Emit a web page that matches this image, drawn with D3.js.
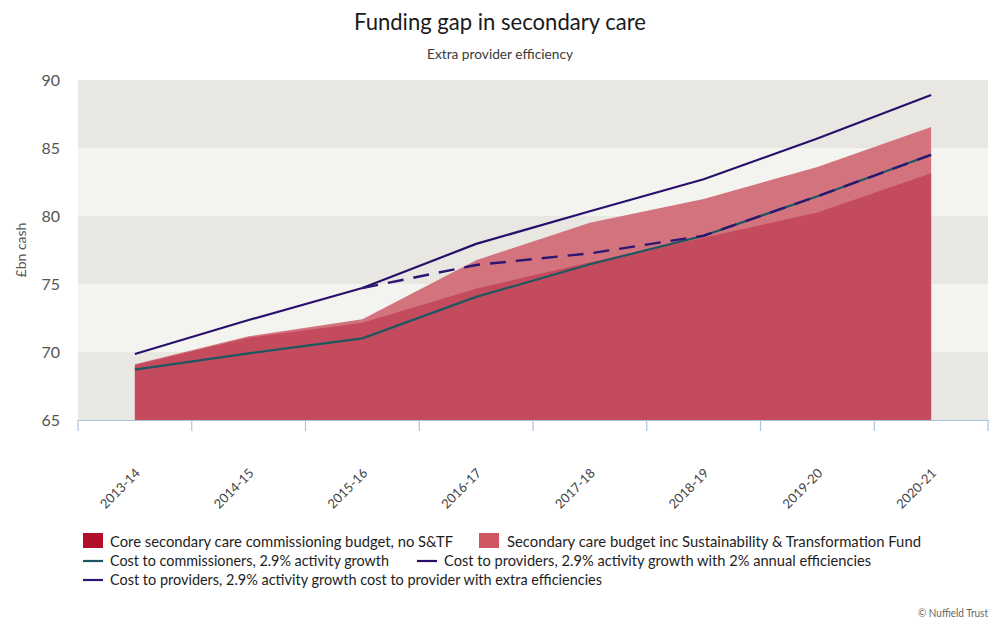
<!DOCTYPE html>
<html>
<head>
<meta charset="utf-8">
<script src="https://cdn.jsdelivr.net/npm/d3@7"></script>
<style>
  html, body { margin: 0; padding: 0; background: #ffffff; }
  svg { display: block; }
  text { font-family: Lato, "Open Sans", "DejaVu Sans", sans-serif; }
</style>
</head>
<body>
<svg id="chart" width="1000" height="625"></svg>
<script>
// ---- data ----
const categories = ["2013-14","2014-15","2015-16","2016-17","2017-18","2018-19","2019-20","2020-21"];
const coreBudget = [69.05, 71.05, 72.15, 74.65, 76.6, 78.4, 80.25, 83.15];
const stfBudget = [69.1, 71.15, 72.4, 76.75, 79.5, 81.25, 83.6, 86.55];
const costCommissioners = [68.7, 69.9, 71.0, 74.05, 76.45, 78.55, 81.45, 84.5];
const costProviders2pc = [69.85, 72.35, 74.7, 77.95, 80.35, 82.7, 85.7, 88.9];
const costProvidersExtra = [null, null, 74.7, 76.4, 77.25, 78.55, 81.45, 84.5];
const yTicks = [65, 70, 75, 80, 85, 90];

const title = "Funding gap in secondary care";
const subtitle = "Extra provider efficiency";
const yTitle = "£bn cash";
const credit = "© Nuffield Trust";
const legendLabels = [
  "Core secondary care commissioning budget, no S&TF",
  "Secondary care budget inc Sustainability & Transformation Fund",
  "Cost to commissioners, 2.9% activity growth",
  "Cost to providers, 2.9% activity growth with 2% annual efficiencies",
  "Cost to providers, 2.9% activity growth cost to provider with extra efficiencies"
];

(function () {
// ---- layout ----
const svg = d3.select("#chart");
const pL = 78, pR = 988, pT = 80, pB = 420;

const x = d3.scaleBand().domain(categories).range([pL, pR]).padding(0);
const cx = d => x(d) + x.bandwidth() / 2;
const y = d3.scaleLinear().domain([65, 90]).range([pB, pT]);

// title
svg.append("text").attr("x", 500).attr("y", 30).attr("text-anchor", "middle")
  .attr("font-size", 24).attr("fill", "#1a1a1a").attr("textLength", 292)
  .attr("lengthAdjust", "spacingAndGlyphs").text(title);
svg.append("text").attr("x", 500).attr("y", 59).attr("text-anchor", "middle")
  .attr("font-size", 14).attr("fill", "#3a3a3a").attr("textLength", 146)
  .attr("lengthAdjust", "spacingAndGlyphs").text(subtitle);

// background bands
const bandColors = ["#e8e7e2", "#f3f4f0"];
for (let i = 0; i < yTicks.length - 1; i++) {
  svg.append("rect")
    .attr("x", pL).attr("width", pR - pL)
    .attr("y", y(yTicks[i + 1])).attr("height", y(yTicks[i]) - y(yTicks[i + 1]))
    .attr("fill", bandColors[i % 2]);
}

// areas
const areaGen = vals => d3.area()
  .x((d, i) => cx(categories[i]))
  .y0(y(65))
  .y1(d => y(d))(vals);

svg.append("path").attr("d", areaGen(stfBudget)).attr("fill", "#d2737e");
svg.append("path").attr("d", areaGen(coreBudget)).attr("fill", "#c44b5d");

// lines
const lineGen = d3.line()
  .defined(d => d != null)
  .x((d, i) => cx(categories[i]))
  .y(d => y(d));

svg.append("path").attr("d", lineGen(costCommissioners))
  .attr("fill", "none").attr("stroke", "#1d5862").attr("stroke-width", 2.2);
svg.append("path").attr("d", lineGen(costProviders2pc))
  .attr("fill", "none").attr("stroke", "#2a0f6a").attr("stroke-width", 2.2);
svg.append("path").attr("d", lineGen(costProvidersExtra))
  .attr("fill", "none").attr("stroke", "#2d1672").attr("stroke-width", 2.4)
  .attr("stroke-dasharray", "16,10");

// y axis labels
const yAxis = svg.append("g").attr("transform", `translate(${pL},0)`)
  .call(d3.axisLeft(y).tickValues(yTicks).tickSize(0).tickPadding(18));
yAxis.select(".domain").remove();
yAxis.selectAll("text").attr("font-size", 16).attr("fill", "#555")
  .attr("font-family", "Lato, 'Open Sans', sans-serif");

svg.append("text")
  .attr("transform", `translate(26,250) rotate(-90)`)
  .attr("text-anchor", "middle").attr("font-size", 14).attr("fill", "#555")
  .text(yTitle);

// x axis
const xAxis = svg.append("g").attr("transform", `translate(0,${pB})`)
  .call(d3.axisBottom(x).tickSize(0).tickFormat(""));
xAxis.select(".domain").attr("stroke", "#aac5e2").attr("stroke-width", 1.2);
xAxis.selectAll(".tick").remove();
const edges = categories.map(c => x(c)).concat([pR]);
svg.selectAll(".xtick").data(edges).enter().append("line")
  .attr("x1", d => d).attr("x2", d => d)
  .attr("y1", pB).attr("y2", pB + 11)
  .attr("stroke", "#aac5e2").attr("stroke-width", 1.2);

svg.selectAll(".xlab").data(categories).enter().append("text")
  .attr("transform", d => `translate(${cx(d) + 6},474) rotate(-45)`)
  .attr("text-anchor", "end").attr("font-size", 13).attr("fill", "#444")
  .text(d => d);

// legend
const lg = svg.append("g");
const legendItems = [
  { type: "rect", color: "#b30e2a", sx: 83, sy: 533, tx: 110, ty: 547, tw: 343, label: legendLabels[0] },
  { type: "rect", color: "#cf5764", sx: 479, sy: 533, tx: 507, ty: 547, tw: 414, label: legendLabels[1] },
  { type: "line", color: "#1d5862", sx: 83, sy: 561, tx: 110, ty: 566, tw: 279, label: legendLabels[2] },
  { type: "line", color: "#2a0f6a", sx: 417, sy: 561, tx: 444, ty: 566, tw: 427, label: legendLabels[3] },
  { type: "line", color: "#2d1672", sx: 83, sy: 580, tx: 110, ty: 585, tw: 492, label: legendLabels[4] }
];
legendItems.forEach(it => {
  if (it.type === "rect") {
    lg.append("rect").attr("x", it.sx).attr("y", it.sy).attr("width", 20).attr("height", 15)
      .attr("fill", it.color);
  } else {
    lg.append("line").attr("x1", it.sx).attr("x2", it.sx + 20)
      .attr("y1", it.sy).attr("y2", it.sy)
      .attr("stroke", it.color).attr("stroke-width", 2.2);
  }
  lg.append("text").attr("x", it.tx).attr("y", it.ty)
    .attr("font-size", 15).attr("fill", "#1e1e1e")
    .attr("textLength", it.tw).attr("lengthAdjust", "spacingAndGlyphs")
    .text(it.label);
});

// credit
svg.append("text").attr("x", 988).attr("y", 617).attr("text-anchor", "end")
  .attr("font-size", 11).attr("fill", "#666").attr("textLength", 70)
  .attr("lengthAdjust", "spacingAndGlyphs").text(credit);
})();
</script>
</body>
</html>
